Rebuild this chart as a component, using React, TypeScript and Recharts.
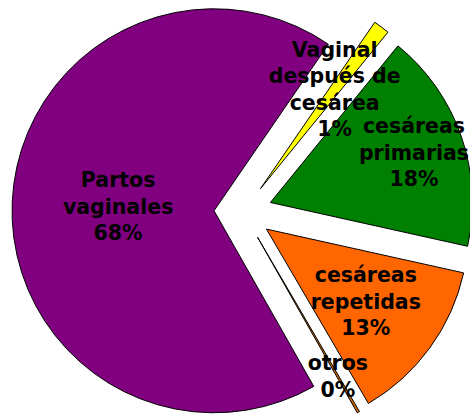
import { PieChart, Pie, Cell, Sector } from "recharts";

// categories, clockwise starting from the purple slice
const categories = [
  "Partos\nvaginales",
  "Vaginal\ndespués de\ncesárea",
  "cesáreas\nprimarias",
  "cesáreas\nrepetidas",
  "otros",
];
const shares = [67.8, 1.3, 17.6, 13.1, 0.2];
const colors = ["#800080", "#FFFF00", "#008000", "#FF6600", "#CC6600"];

// distance of each label from the pie centre (layout only)
const labelRadius = [125, 153, 181, 152, 190];

const data = categories.map((name, i) => ({ name, value: shares[i] }));

const RAD = Math.PI / 180;
const EXPLODE = 29;

// eslint-disable-next-line @typescript-eslint/no-explicit-any
function ExplodedSector(props: any) {
  const { cx, cy, midAngle } = props;
  const dx = EXPLODE * Math.cos(-midAngle * RAD);
  const dy = EXPLODE * Math.sin(-midAngle * RAD);
  return <Sector {...props} cx={cx + dx} cy={cy + dy} stroke="#000" strokeWidth={1} />;
}

// eslint-disable-next-line @typescript-eslint/no-explicit-any
function renderLabel(props: any) {
  const { cx, cy, midAngle, index, percent } = props;
  const r = labelRadius[index];
  const x = cx + r * Math.cos(-midAngle * RAD);
  const lines = [...categories[index].split("\n"), `${Math.round(percent * 100)}%`];
  const lh = 26.5;
  const y0 = cy + r * Math.sin(-midAngle * RAD) - ((lines.length - 1) * lh) / 2;
  return (
    <text
      key={`lbl-${index}`}
      x={x}
      y={y0}
      textAnchor="middle"
      dominantBaseline="central"
      fontFamily="DejaVu Sans, Verdana, sans-serif"
      fontWeight="bold"
      fontSize={20.5}
      fill="#000"
    >
      {lines.map((l, i) => (
        <tspan key={i} x={x} y={y0 + i * lh} dominantBaseline="central">
          {l}
        </tspan>
      ))}
    </text>
  );
}

export default function App() {
  return (
    <div style={{ position: "absolute", left: 0, top: 0, width: 470, height: 414, background: "#fff" }}>
      <PieChart width={470} height={414} margin={{ top: 0, right: 0, bottom: 0, left: 0 }}>
        <Pie
          data={data}
          dataKey="value"
          nameKey="name"
          cx={243}
          cy={212}
          outerRadius={202}
          startAngle={-60.4}
          endAngle={-420.4}
          stroke="#000"
          strokeWidth={1}
          shape={ExplodedSector}
          label={renderLabel}
          labelLine={false}
          isAnimationActive={false}
        >
          {data.map((d, i) => (
            <Cell key={d.name} fill={colors[i]} />
          ))}
        </Pie>
      </PieChart>
    </div>
  );
}
